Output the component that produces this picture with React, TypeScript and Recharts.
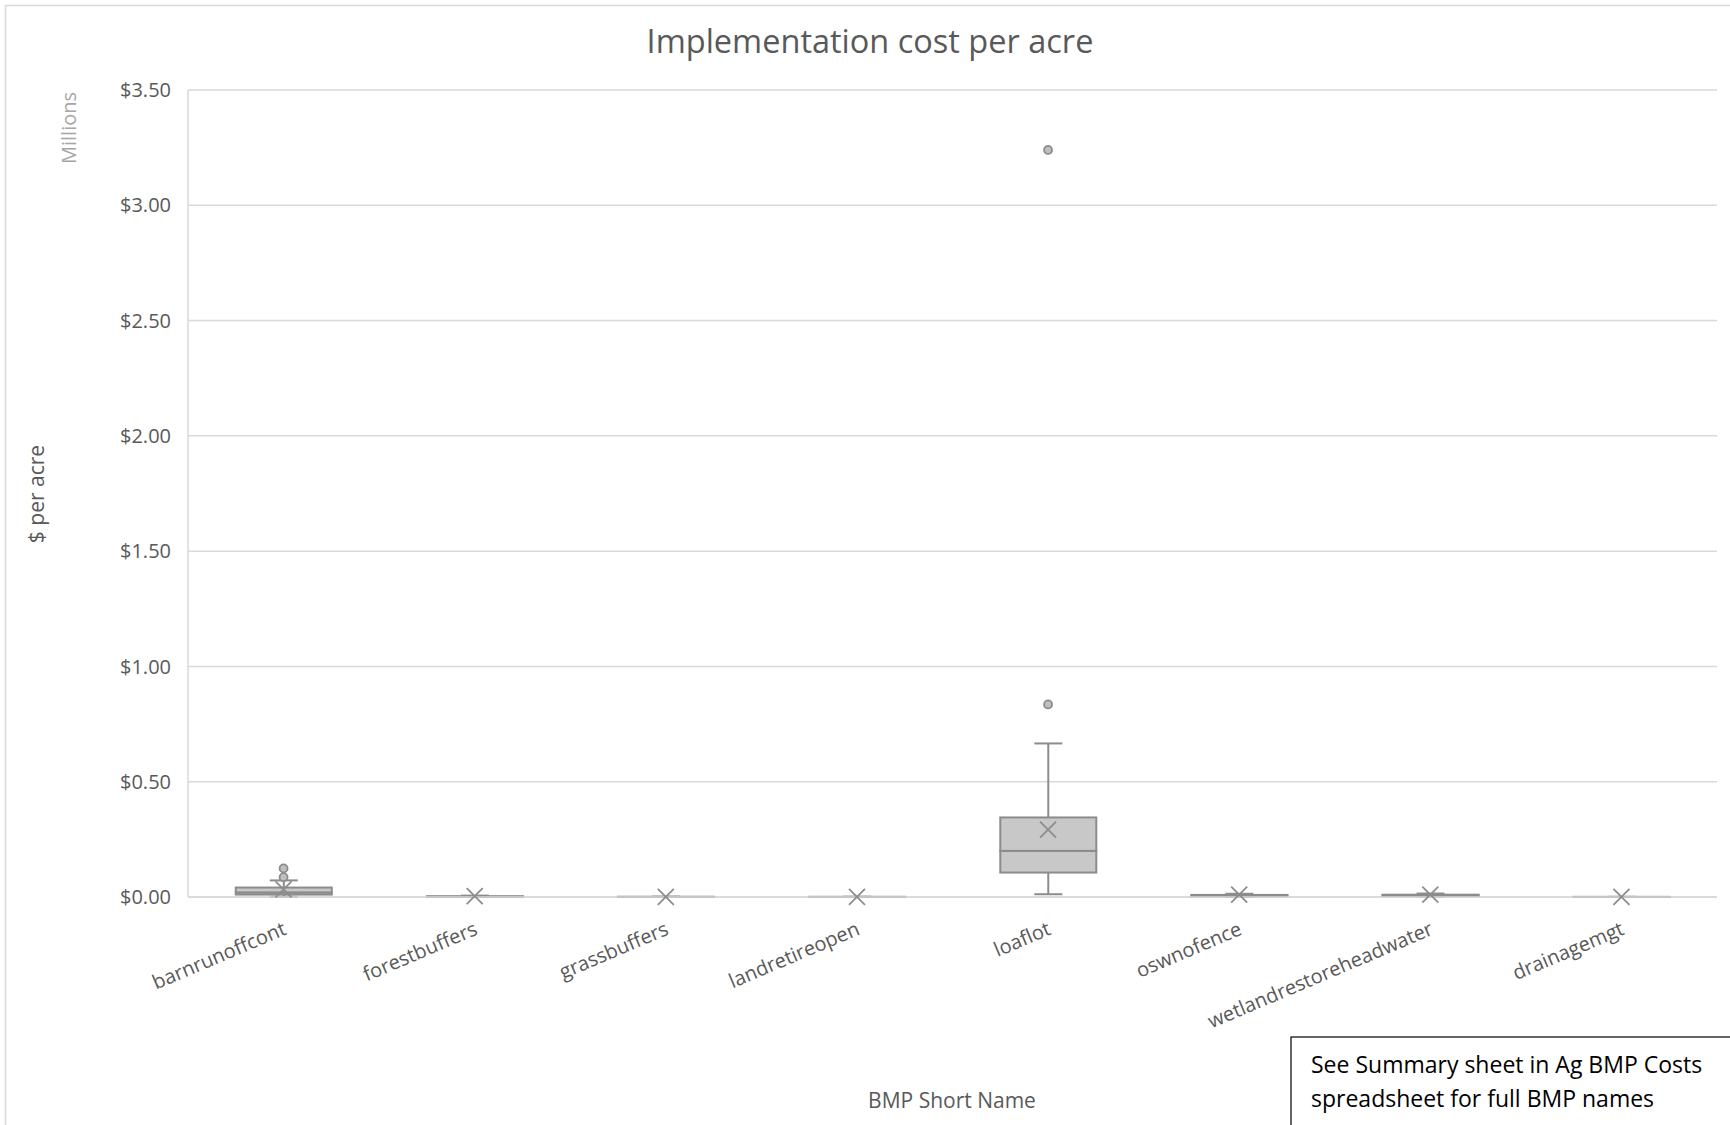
import React from "react";
import {
  ComposedChart,
  Bar,
  Scatter,
  XAxis,
  YAxis,
  CartesianGrid,
} from "recharts";

// BMP cost distributions, dollars per acre
const categories = [
  "barnrunoffcont",
  "forestbuffers",
  "grassbuffers",
  "landretireopen",
  "loaflot",
  "oswnofence",
  "wetlandrestoreheadwater",
  "drainagemgt",
];
const mins = [1000, 0, 0, 0, 12000, 1000, 1500, 0];
const q1s = [10500, 1000, 200, 100, 106000, 3000, 4000, 100];
const medians = [20000, 2000, 400, 300, 200000, 6000, 7000, 200];
const q3s = [41000, 3000, 800, 600, 345000, 9000, 10000, 400];
const maxs = [72000, 6000, 1500, 1200, 666000, 14000, 15000, 800];
const means = [33000, 4000, 600, 500, 292000, 10000, 10000, 300];
const outliersA = [86000, null, null, null, 835000, null, null, null];
const outliersB = [124000, null, null, null, 3240000, null, null, null];
const yTicks = [0, 500000, 1000000, 1500000, 2000000, 2500000, 3000000, 3500000];

const W = 1730;
const H = 1125;
const FONT = "'Open Sans', sans-serif";
const TEXT = "#595959";
const GRID = "#d9d9d9";
const BOX_FILL = "#c8c8c8";
const BOX_LINE = "#8c8c8c";

// stacked segments: base (hidden), lower whisker, lower box, upper box, upper whisker
const rows = categories.map((name, i) => ({
  name,
  base: mins[i],
  lowWhisker: q1s[i] - mins[i],
  lowBox: medians[i] - q1s[i],
  highBox: q3s[i] - medians[i],
  highWhisker: maxs[i] - q3s[i],
  mean: means[i],
  outA: outliersA[i],
  outB: outliersB[i],
}));

const CAP = 28;

const BoxShape = (p: any) => {
  const top = Math.min(p.y, p.y + p.height);
  const h = Math.abs(p.height);
  return (
    <rect
      x={p.x}
      y={top}
      width={p.width}
      height={h}
      fill={BOX_FILL}
      stroke={BOX_LINE}
      strokeWidth={2}
    />
  );
};

const whisker = (capAtTop: boolean) => (p: any) => {
  const top = Math.min(p.y, p.y + p.height);
  const bottom = top + Math.abs(p.height);
  const cx = p.x + p.width / 2;
  const capY = capAtTop ? top : bottom;
  return (
    <g stroke={BOX_LINE} strokeWidth={2}>
      <line x1={cx} x2={cx} y1={top} y2={bottom} />
      <line x1={cx - CAP / 2} x2={cx + CAP / 2} y1={capY} y2={capY} />
    </g>
  );
};

const MeanMark = (p: any) => {
  if (!Number.isFinite(p.cx) || !Number.isFinite(p.cy)) return <g />;
  const s = 8;
  return (
    <g stroke={BOX_LINE} strokeWidth={1.8}>
      <line x1={p.cx - s} y1={p.cy - s} x2={p.cx + s} y2={p.cy + s} />
      <line x1={p.cx - s} y1={p.cy + s} x2={p.cx + s} y2={p.cy - s} />
    </g>
  );
};

const outlierMark = (key: string) => (p: any) => {
  if (p.payload?.[key] == null || !Number.isFinite(p.cy)) return <g />;
  return <circle cx={p.cx} cy={p.cy} r={4} fill="#bfbfbf" stroke={BOX_LINE} strokeWidth={1.8} />;
};

const CategoryTick = (p: any) => (
  <g transform={`translate(${p.x + 4},${p.y + 35})`}>
    <text
      transform="rotate(-23)"
      textAnchor="end"
      fontSize={20}
      fontFamily={FONT}
      fill={TEXT}
    >
      {p.payload.value}
    </text>
  </g>
);

const money = (v: number) => `$${(v / 1000000).toFixed(2)}`;

export default function App() {
  return (
    <div style={{ position: "absolute", left: 0, top: 0, width: W, height: H, background: "#fff", overflow: "hidden" }}>
      <ComposedChart
        width={W}
        height={H}
        data={rows}
        margin={{ top: 90, right: 13, bottom: 0, left: 0 }}
        barCategoryGap="25%"
        style={{ fontFamily: FONT }}
      >
        <CartesianGrid vertical={false} stroke={GRID} strokeWidth={1.5} />
        <XAxis
          dataKey="name"
          interval={0}
          height={228}
          tickSize={0}
          axisLine={{ stroke: GRID, strokeWidth: 1.5 }}
          tickLine={false}
          tick={<CategoryTick />}
        />
        <YAxis
          type="number"
          domain={[0, 3500000]}
          ticks={yTicks}
          width={188}
          tickSize={0}
          tickMargin={17}
          tickLine={false}
          axisLine={{ stroke: GRID, strokeWidth: 1.5 }}
          tickFormatter={money}
          tick={{ fontSize: 20, fill: TEXT, fontFamily: FONT }}
        />
        <Bar dataKey="base" stackId="box" fill="transparent" isAnimationActive={false} />
        <Bar dataKey="lowWhisker" stackId="box" shape={whisker(false)} isAnimationActive={false} />
        <Bar dataKey="lowBox" stackId="box" shape={BoxShape} isAnimationActive={false} />
        <Bar dataKey="highBox" stackId="box" shape={BoxShape} isAnimationActive={false} />
        <Bar dataKey="highWhisker" stackId="box" shape={whisker(true)} isAnimationActive={false} />
        <Scatter dataKey="mean" shape={MeanMark} isAnimationActive={false} />
        <Scatter dataKey="outA" shape={outlierMark("outA")} isAnimationActive={false} />
        <Scatter dataKey="outB" shape={outlierMark("outB")} isAnimationActive={false} />
      </ComposedChart>

      {/* frame, titles and the note box */}
      <svg
        width={W}
        height={H}
        style={{ position: "absolute", left: 0, top: 0, pointerEvents: "none" }}
        fontFamily={FONT}
      >
        <rect x={5.5} y={5.5} width={W + 20} height={H + 20} fill="none" stroke={GRID} strokeWidth={1.5} />
        <text x={870} y={53} textAnchor="middle" fontSize={32.5} fill={TEXT}>
          Implementation cost per acre
        </text>
        <text
          transform="translate(76,128) rotate(-90)"
          textAnchor="middle"
          fontSize={20}
          fill="#a6a6a6"
        >
          Millions
        </text>
        <text
          transform="translate(44,494) rotate(-90)"
          textAnchor="middle"
          fontSize={21}
          fill={TEXT}
        >
          $ per acre
        </text>
        <text x={952} y={1108} textAnchor="middle" fontSize={21} fill={TEXT}>
          BMP Short Name
        </text>
        <rect x={1291} y={1037} width={500} height={200} fill="#fff" stroke="#000" strokeWidth={1.2} />
        <text x={1311} y={1073} fontSize={23} fill="#000">
          See Summary sheet in Ag BMP Costs
        </text>
        <text x={1311} y={1107} fontSize={23} fill="#000">
          spreadsheet for full BMP names
        </text>
      </svg>
    </div>
  );
}
